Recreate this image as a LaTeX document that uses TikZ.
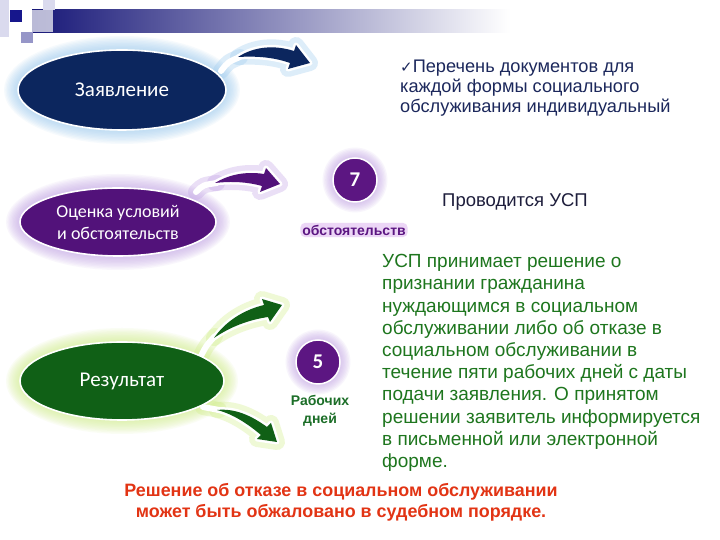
\documentclass[tikz,border=0pt]{standalone}
\usepackage{fontspec}
\setmainfont{Liberation Sans}
\newfontfamily\calfont{Carlito}
\newfontfamily\dvfont{DejaVu Sans}
\usetikzlibrary{arrows.meta,shapes.geometric}
\definecolor{navyfill}{RGB}{12,38,94}
\definecolor{navyglow}{RGB}{160,205,240}
\definecolor{purpfill}{RGB}{82,18,122}
\definecolor{purpglow}{RGB}{195,165,230}
\definecolor{grnfill}{RGB}{16,96,22}
\definecolor{grnglow}{RGB}{210,238,140}
\definecolor{circfill}{RGB}{92,22,130}
\definecolor{navytext}{RGB}{28,40,92}
\definecolor{darktext}{RGB}{30,30,60}
\definecolor{grntext}{RGB}{30,118,30}
\definecolor{grnlabel}{RGB}{28,110,40}
\definecolor{redtext}{RGB}{226,52,20}
\definecolor{barblue}{RGB}{24,24,120}
\definecolor{sqdark}{RGB}{22,22,140}
\definecolor{sqmid}{RGB}{150,150,200}
\definecolor{sqpale}{RGB}{218,218,238}
\definecolor{obglow}{RGB}{236,214,246}
\newcommand\glowell[5]{%
  \foreach \k in {1,...,10}{%
    \fill[#5,opacity=0.09] (#1,#2) ellipse [x radius={#3pt+\k*1.4pt}, y radius={#4pt+\k*1.4pt}];}}
\newcommand\glowcirc[4]{%
  \foreach \k in {1,...,8}{%
    \fill[#4,opacity=0.1] (#1,#2) circle [radius={#3pt+\k*1.3pt}];}}
% #1 swoosh outline, #2 white tail, #3 fill colour, #4 glow colour
\newcommand\swoosh[4]{%
  \draw[#4,opacity=0.35,line width=16pt,line join=round,line cap=round] #1;
  \draw[#4,opacity=0.35,line width=16pt,line cap=round] #2;
  \draw[white,line width=6pt,line cap=round] #2;
  \draw[white,line width=5pt,line join=round] #1;
  \fill[#3] #1;}
\begin{document}
\begin{tikzpicture}[x=1pt,y=1pt,
  ell/.style={ellipse,draw=white,line width=1.6pt,inner sep=0pt,text=white,
    font=\calfont\fontsize{18}{22}\selectfont,align=center},
  num/.style={circle,draw=white,line width=1.5pt,fill=circfill,minimum size=44pt,inner sep=0pt,
    text=white,font=\calfont\bfseries\fontsize{21}{24}\selectfont},
  body/.style={inner sep=0pt,align=left,font=\fontsize{19}{22.2}\selectfont}]
\useasboundingbox (0,0) rectangle (720,540);
\fill[white] (0,0) rectangle (720,540);
% top decoration
\fill[sqpale] (0,503) rectangle (9,540);
\shade[left color=barblue,right color=white] (32,507) rectangle (510,530);
\fill[white,opacity=0.7] (32,508) rectangle (53,530);
\fill[sqpale] (43,530) rectangle (55,540);
\fill[sqdark] (10,518) rectangle (22,530);
\fill[sqmid] (21,497) rectangle (33,508);
% glows
\glowell{122}{450}{104}{40}{navyglow}
\glowell{118}{318}{98}{34}{purpglow}
\glowell{122}{159}{102}{39}{grnglow}
\glowcirc{355}{360}{22}{purpglow}
\glowcirc{318}{178}{22}{purpglow}
% swoosh arrows
\swoosh{(238,483) .. controls (255,494) and (275,495) .. (294,489) -- (296,495) -- (310,477) -- (288,471) -- (290,477) .. controls (273,483) and (256,484) .. (238,483) -- cycle}
  {(221,469) .. controls (228,478) .. (240,483)}{navyfill}{navyglow}
\swoosh{(215,357) .. controls (228,365) and (245,369) .. (264,366) -- (266,372) -- (280,356) -- (260,348) -- (262,354) .. controls (248,358) and (232,359) .. (215,357) -- cycle}
  {(196,348) .. controls (203,355) .. (217,357)}{purpfill}{purpglow}
\swoosh{(214,202) .. controls (225,218) and (243,230) .. (264,235) -- (262,241) -- (282,235) -- (270,218) -- (268,223) .. controls (248,220) and (230,213) .. (214,202) -- cycle}
  {(201,184) .. controls (206,194) .. (215,204)}{grnfill}{grnglow}
\swoosh{(217,130) .. controls (235,132) and (252,124) .. (267,113) -- (271,117) -- (277,98) -- (257,101) -- (261,105) .. controls (248,116) and (233,126) .. (217,130) -- cycle}
  {(203,133) -- (219,130)}{grnfill}{grnglow}
% ellipses
\node[ell,fill=navyfill,minimum width=208pt,minimum height=80pt,font=\calfont\fontsize{21}{24}\selectfont] (e1) at (122,450) {Заявление};
\node[ell,fill=purpfill,minimum width=196pt,minimum height=68pt] (e2) at (118,318) {Оценка условий\\и обстоятельств};
\node[ell,fill=grnfill,minimum width=204pt,minimum height=78pt,font=\calfont\fontsize{21}{24}\selectfont] (e3) at (122,159) {Результат};
% circles
\node[num] (c7) at (355,360) {7};
\node[num] (c5) at (318,178) {5};
% labels
\node[fill=obglow,rounded corners=5pt,inner sep=2pt,text=circfill,
  font=\bfseries\fontsize{14}{16}\selectfont] (ob) at (354,310) {обстоятельств};
\node[align=center,inner sep=0pt,text=grnlabel,
  font=\bfseries\fontsize{14}{18}\selectfont] (rd) at (320,129) {Рабочих\\дней};
\node[inner sep=0pt,text=darktext,font=\fontsize{18.5}{20}\selectfont] (usp) at (515,338) {Проводится УСП};
\node[body,text=navytext,anchor=west,font=\fontsize{18.2}{20}\selectfont] (list) at (400,452)
  {{\dvfont\fontsize{15}{20}\selectfont ✓}Перечень документов для\\каждой формы социального\\обслуживания индивидуальный};
\node[body,text=grntext,anchor=west] (res) at (382,177)
  {УСП принимает решение о\\признании гражданина\\нуждающимся в социальном\\обслуживании либо об отказе в\\социальном обслуживании в\\течение пяти рабочих дней с даты\\подачи заявления. О принятом\\решении заявитель информируется\\в письменной или электронной\\форме.};
\node[align=center,inner sep=0pt,text=redtext,
  font=\bfseries\fontsize{17.9}{21}\selectfont] (appeal) at (341,38)
  {Решение об отказе в социальном обслуживании\\может быть обжаловано в судебном порядке.};
\end{tikzpicture}
\end{document}
